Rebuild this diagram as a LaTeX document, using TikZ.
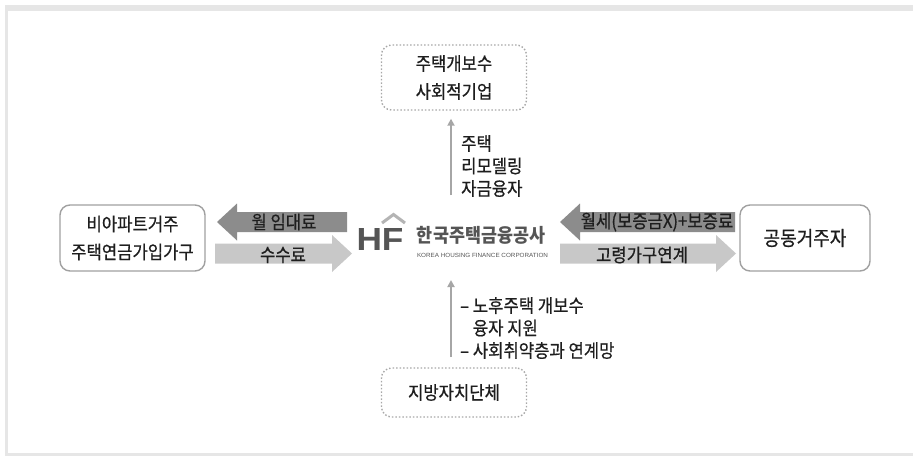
\documentclass[tikz,border=0pt]{standalone}
\usepackage{fontspec}
\setmainfont{Noto Sans CJK KR}
\newfontfamily\kr{Noto Sans CJK KR}[FakeStretch=0.9,FakeBold=0.6]
\newfontfamily\krlogo{Noto Sans CJK KR}
\newfontfamily\lat{Liberation Sans}
\usetikzlibrary{arrows.meta}
\definecolor{framegray}{HTML}{E6E6E6}
\definecolor{boxgray}{HTML}{A0A0A0}
\definecolor{dotgray}{HTML}{A8A8A8}
\definecolor{darkarr}{HTML}{8C8C8C}
\definecolor{lightarr}{HTML}{C8C8C8}
\definecolor{vgray}{HTML}{A6A6A6}
\definecolor{txt}{HTML}{1E1E1E}
\definecolor{logogray}{HTML}{555555}
\definecolor{roofgray}{HTML}{B4B4B4}
\newcommand\hfArrowL[4]{\fill[#4] (#1,#3-10) -- (#2+20,#3-10) -- (#2+20,#3-18.5) -- (#2,#3) -- (#2+20,#3+18.5) -- (#2+20,#3+10) -- (#1,#3+10) -- cycle;}
\newcommand\hfArrowR[4]{\fill[#4] (#1,#3-10) -- (#2-20,#3-10) -- (#2-20,#3-18.5) -- (#2,#3) -- (#2-20,#3+18.5) -- (#2-20,#3+10) -- (#1,#3+10) -- cycle;}
\begin{document}
\begin{tikzpicture}[x=1pt,y=-1pt,
  solidbox/.style={draw=boxgray, line width=1.4pt, rounded corners=10pt, fill=white, align=center, inner sep=0pt, text=txt, font=\kr\fontsize{18.5}{28}\selectfont},
  dotbox/.style={solidbox, draw=dotgray, dash pattern=on 1.5pt off 2pt},
  lbl/.style={text=txt, inner sep=0pt, font=\kr\fontsize{18.5}{22}\selectfont},
  sidetxt/.style={text=txt, inner sep=0pt, align=left, font=\kr\fontsize{18.5}{22.5}\selectfont},
  varrow/.style={draw=vgray, line width=2pt, -{Triangle[width=7pt,length=7pt]}},
  darkfill/.style={fill=darkarr},
  lightfill/.style={fill=lightarr}]
\useasboundingbox (0,0) rectangle (913,456);
\fill[framegray] (5,5) rectangle (913,456);
\fill[white] (8,11) rectangle (913,453);

% boxes
\node[dotbox, minimum width=145pt, minimum height=65pt] (top) at (454,77.5) {주택개보수\\사회적기업};
\node[dotbox, minimum width=145pt, minimum height=49pt] (bot) at (454,392.5) {지방자치단체};
\node[solidbox, minimum width=145pt, minimum height=66pt] (left) at (132.5,238) {비아파트거주\\주택연금가입가구};
\node[solidbox, minimum width=130pt, minimum height=66pt, font=\kr\fontsize{20}{28}\selectfont] (right) at (805,238) {공동거주자};

% block arrows
\hfArrowL{347}{217}{222}{darkfill}
\hfArrowR{215}{352}{253.5}{lightfill}
\hfArrowL{735}{560}{222}{darkfill}
\hfArrowR{560}{736}{253.5}{lightfill}
\node[lbl] (l1) at (284,222) {월 임대료};
\node[lbl] (l2) at (283,255) {수수료};
\node[lbl] (l3) at (657,222) {월세(보증금X)+보증료};
\node[lbl] (l4) at (642,255) {고령가구연계};

% logo
\node[inner sep=0pt, text=logogray] (hfl) at (380,239) {\resizebox{47pt}{22pt}{\lat\bfseries HF}};
\draw[roofgray, line width=3pt, line join=miter] (382,223) -- (393.5,214.5) -- (405,223);
\node[inner sep=0pt, text=logogray, anchor=south] (hfk) at (481,242.5) {\raisebox{0pt}[\height][0pt]{\scalebox{1}[1.1]{\resizebox{128pt}{!}{\krlogo\bfseries 한국주택금융공사}}}};
\node[inner sep=0pt, text=logogray] (hfe) at (482.5,255.5) {\resizebox{131pt}{4.2pt}{\lat KOREA HOUSING FINANCE CORPORATION}};

% vertical arrows
\coordinate (ts) at (451,195);
\coordinate (bs) at (451,357);
\draw[varrow] (ts) -- (ts |- top.south) [shorten >=8pt];
\draw[varrow] (bs) -- (451,280);
\node[sidetxt, anchor=west] (tt) at (461,166) {주택\\리모델링\\자금융자};
\node[sidetxt, anchor=west] (bt) at (460,328) {– 노후주택 개보수\\\phantom{– }융자 지원\\– 사회취약층과 연계망};
\end{tikzpicture}
\end{document}
